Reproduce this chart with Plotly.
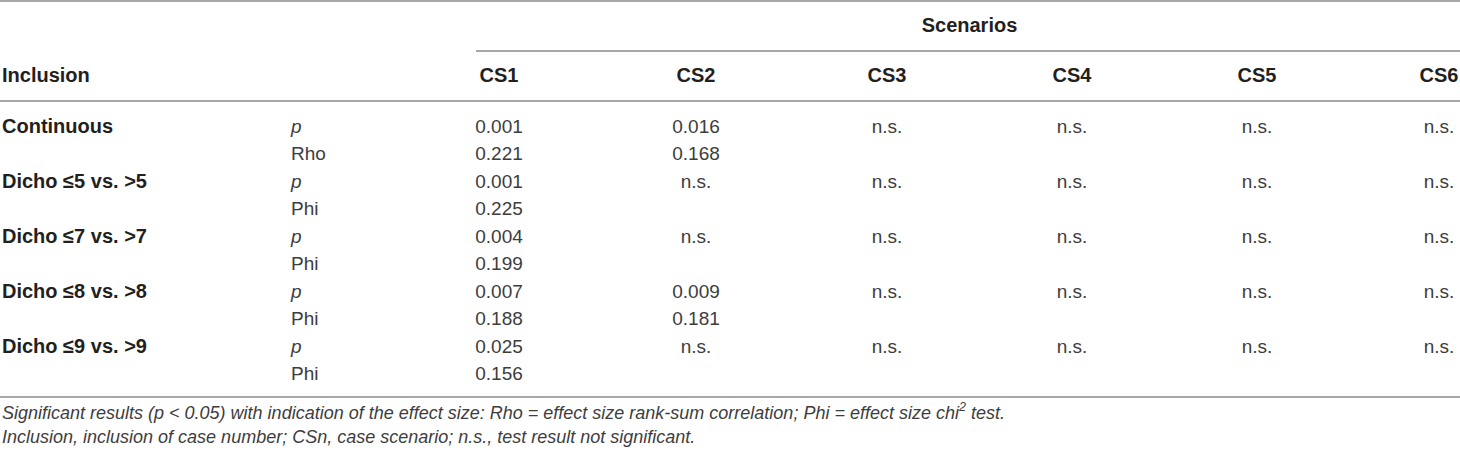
import plotly.graph_objects as go

# ---------------- data ----------------
inclusion = ["Continuous", "Dicho ≤5 vs. &gt;5", "Dicho ≤7 vs. &gt;7",
             "Dicho ≤8 vs. &gt;8", "Dicho ≤9 vs. &gt;9"]
effect_names = ["Rho", "Phi", "Phi", "Phi", "Phi"]
scenarios = ["CS1", "CS2", "CS3", "CS4", "CS5", "CS6"]
cs1_p = ["0.001", "0.001", "0.004", "0.007", "0.025"]
cs1_eff = ["0.221", "0.225", "0.199", "0.188", "0.156"]
cs2_p = ["0.016", "n.s.", "n.s.", "0.009", "n.s."]
cs2_eff = ["0.168", "", "", "0.181", ""]
cs3_p = ["n.s."] * 5
cs4_p = ["n.s."] * 5
cs5_p = ["n.s."] * 5
cs6_p = ["n.s."] * 5
empty_eff = [""] * 5
caption1 = ("<i>Significant results (p &lt; 0.05) with indication of the effect size: "
            "Rho = effect size rank-sum correlation; Phi = effect size chi<sup>2</sup> test.</i>")
caption2 = ("<i>Inclusion, inclusion of case number; CSn, case scenario; "
            "n.s., test result not significant.</i>")

# ---------------- layout constants ----------------
W, H = 1460, 454
X0 = -3  # left edge of the axis range
col_centers = [496, 693, 884, 1069, 1254, 1436]
stat_x = 288
label_x = -1
y_scen = 27
y_head = 77
row0 = 128
pitch = 27.5
y_caps = [414, 438]
line_col = "#a8a8a8"
txt_col = "#231f20"
val_col = "#3d3d3d"
FONT = "Liberation Sans, Arial, sans-serif"
fs_b = 20
fs = 19
fs_cap = 18

fig = go.Figure()

y_p = [row0 + 2 * i * pitch for i in range(len(inclusion))]
y_e = [row0 + (2 * i + 1) * pitch for i in range(len(inclusion))]


def text_trace(x, y, text, pos, size, color):
    return go.Scatter(x=x, y=y, mode="text", text=text, textposition=pos,
                      textfont=dict(family=FONT, size=size, color=color),
                      hoverinfo="skip", cliponaxis=False)


# Inclusion labels
fig.add_trace(text_trace([label_x] * len(inclusion), y_p,
                         [f"<b>{s}</b>" for s in inclusion], "middle right", fs_b, txt_col))
# stat labels
fig.add_trace(text_trace([stat_x] * (2 * len(inclusion)), y_p + y_e,
                         ["<i>p</i>"] * len(inclusion) + effect_names, "middle right", fs, val_col))

# values per scenario
cols_p = [cs1_p, cs2_p, cs3_p, cs4_p, cs5_p, cs6_p]
cols_e = [cs1_eff, cs2_eff, empty_eff, empty_eff, empty_eff, empty_eff]
for cx, pv, ev in zip(col_centers, cols_p, cols_e):
    xs, ys, ts = [], [], []
    for yy, t in zip(y_p + y_e, pv + ev):
        if t:
            xs.append(cx); ys.append(yy); ts.append(t)
    fig.add_trace(text_trace(xs, ys, ts, "middle center", fs, val_col))

# header
fig.add_trace(text_trace(col_centers, [y_head] * len(scenarios),
                         [f"<b>{s}</b>" for s in scenarios], "middle center", fs_b, txt_col))
fig.add_trace(text_trace([label_x], [y_head], ["<b>Inclusion</b>"], "middle right", fs_b, txt_col))
fig.add_trace(text_trace([(473 + W) / 2], [y_scen], ["<b>Scenarios</b>"], "middle center", fs_b, txt_col))

# captions
fig.add_trace(text_trace([label_x, label_x], y_caps, [caption1, caption2],
                         "middle right", fs_cap, val_col))

# rules
for x0, x1, y in [(X0, W, 1), (473, W, 51), (X0, W, 101), (X0, W, 397)]:
    fig.add_shape(type="line", x0=x0, x1=x1, y0=y, y1=y, xref="x", yref="y",
                  line=dict(color=line_col, width=2))

fig.update_layout(
    width=W, height=H, margin=dict(l=0, r=0, t=0, b=0),
    paper_bgcolor="white", plot_bgcolor="white", showlegend=False,
    xaxis=dict(range=[X0, W + X0], visible=False, fixedrange=True),
    yaxis=dict(range=[H, 0], visible=False, fixedrange=True),
)
fig.write_html("out.html", config={"displayModeBar": False},
               post_script="document.body.style.margin='0';"
                           "document.documentElement.style.overflow='hidden';")
